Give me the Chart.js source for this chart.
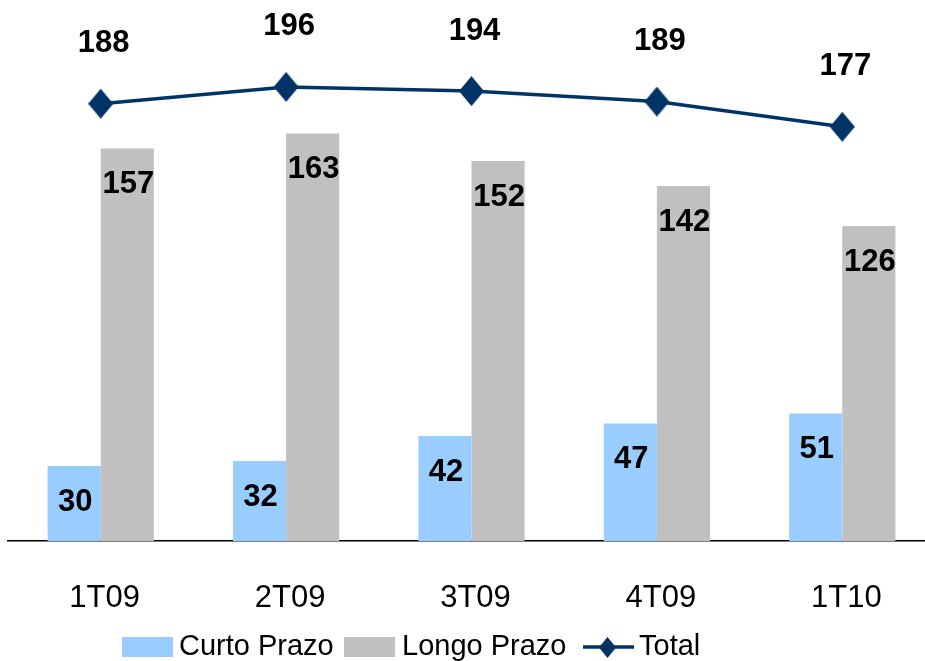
<!DOCTYPE html>
<html>
<head>
<meta charset="utf-8">
<script src="https://cdn.jsdelivr.net/npm/chart.js@4.4.0/dist/chart.umd.min.js"></script>
<style>
  html, body { margin: 0; padding: 0; overflow: hidden; background: #fff; }
  canvas { display: block; }
</style>
</head>
<body>
<canvas id="chart" width="935" height="661" style="width:935px;height:661px"></canvas>
<script>
const categories = ["1T09", "2T09", "3T09", "4T09", "1T10"];
const curtoPrazo = [30, 32, 42, 47, 51];
const longoPrazo = [157, 163, 152, 142, 126];
const total = [188, 196, 194, 189, 177];

const BLUE = "#99CCFF";
const GRAY = "#C0C0C0";
const NAVY = "#003366";
const FONT = "'Liberation Sans', Arial, sans-serif";

// diamond marker, a bit taller than wide
function makeDiamond(w, h) {
  const c = document.createElement("canvas");
  c.width = w; c.height = h;
  const g = c.getContext("2d");
  g.fillStyle = NAVY;
  g.beginPath();
  g.moveTo(w / 2, 0);
  g.lineTo(w, h / 2);
  g.lineTo(w / 2, h);
  g.lineTo(0, h / 2);
  g.closePath();
  g.fill();
  return c;
}
const diamond = makeDiamond(25, 30);

const valueLabels = {
  id: "valueLabels",
  afterDatasetsDraw(chart) {
    const ctx = chart.ctx;
    ctx.save();
    ctx.font = "bold 31px " + FONT;
    ctx.fillStyle = "#000";
    ctx.textAlign = "center";
    ctx.textBaseline = "middle";
    chart.data.datasets.forEach((ds, di) => {
      const meta = chart.getDatasetMeta(di);
      const isLine = ds.type === "line";
      meta.data.forEach((el, i) => {
        ctx.fillText(ds.data[i], el.x + (isLine ? 3 : 1), el.y + (isLine ? -60 : 36));
      });
    });
    ctx.restore();
  }
};

const bottomLegend = {
  id: "bottomLegend",
  afterDraw(chart) {
    const ctx = chart.ctx;
    const y = 647;
    ctx.save();
    ctx.font = "29px " + FONT;
    ctx.textBaseline = "middle";

    ctx.fillStyle = BLUE;
    ctx.fillRect(122, 637, 51, 20);
    ctx.fillStyle = "#000";
    ctx.fillText("Curto Prazo", 179, y);

    ctx.fillStyle = GRAY;
    ctx.fillRect(344, 637, 51, 20);
    ctx.fillStyle = "#000";
    ctx.fillText("Longo Prazo", 402, y);

    ctx.strokeStyle = NAVY;
    ctx.lineWidth = 3.5;
    ctx.beginPath();
    ctx.moveTo(583, y);
    ctx.lineTo(634, y);
    ctx.stroke();
    ctx.drawImage(makeDiamond(17, 21), 599, y - 10);
    ctx.fillStyle = "#000";
    ctx.fillText("Total", 639, y);
    ctx.restore();
  }
};

new Chart(document.getElementById("chart"), {
  type: "bar",
  data: {
    labels: categories,
    datasets: [
      {
        type: "line",
        label: "Total",
        data: total,
        yAxisID: "y1",
        borderColor: NAVY,
        borderWidth: 3.5,
        pointStyle: diamond,
        pointRadius: 12,
        fill: false,
        clip: false,
        order: 0
      },
      {
        label: "Curto Prazo",
        data: curtoPrazo,
        backgroundColor: BLUE,
        yAxisID: "y",
        barPercentage: 1,
        categoryPercentage: 0.573,
        order: 1
      },
      {
        label: "Longo Prazo",
        data: longoPrazo,
        backgroundColor: GRAY,
        yAxisID: "y",
        barPercentage: 1,
        categoryPercentage: 0.573,
        order: 1
      }
    ]
  },
  options: {
    responsive: false,
    devicePixelRatio: 1,
    animation: false,
    layout: { autoPadding: false, padding: { top: 1, left: 8, right: 0, bottom: 0 } },
    plugins: {
      legend: { display: false },
      tooltip: { enabled: false }
    },
    scales: {
      x: {
        grid: { display: false, drawTicks: false },
        border: { display: true, color: "#000", width: 1.5 },
        ticks: { color: "#000", font: { family: FONT, size: 31 }, padding: 39, labelOffset: 4 },
        afterFit(s) { s.height = 120; }
      },
      y: { display: false, min: 0, max: 216 },
      y1: { display: false, min: -20.2, max: 236.9 }
    }
  },
  plugins: [valueLabels, bottomLegend]
});
</script>
</body>
</html>
